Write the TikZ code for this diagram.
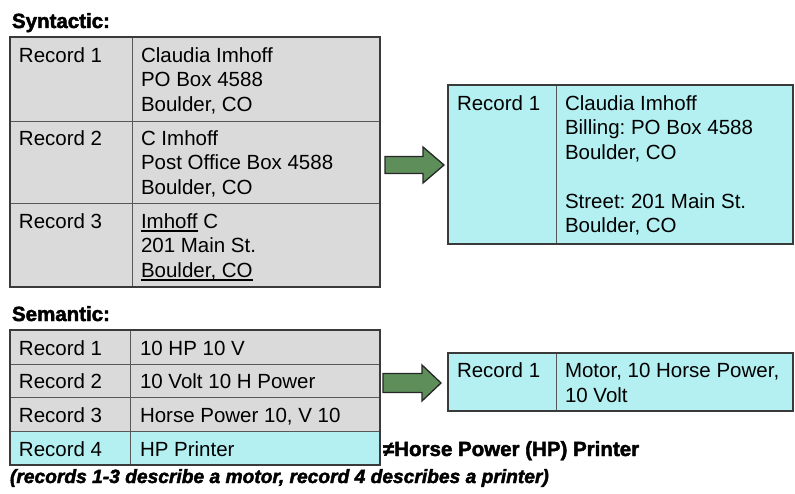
\documentclass[tikz,border=0pt]{standalone}
\usepackage{fontspec}
\setmainfont{Liberation Sans}
\newfontfamily\heavy{Liberation Sans Bold}[FakeBold=2.2]
\newfontfamily\heavyit{Liberation Sans Bold Italic}[FakeBold=2.2]
\usepackage{array}
\frenchspacing
\definecolor{cellgrey}{HTML}{DADADA}
\definecolor{cellcyan}{HTML}{B4F0F1}
\definecolor{arrowgreen}{HTML}{5E8F5B}
\definecolor{edge}{HTML}{3A3A3A}
% underline with a fixed, fairly heavy rule
\newcommand\ulword[1]{\setbox0\hbox{#1}\rlap{\rule[-3.2pt]{\wd0}{1.5pt}}\box0}
% stacked lines with a fixed line pitch, baseline on the first line
\newcommand\stack[1]{\begin{tabular}[t]{@{}l@{}}#1\end{tabular}}
\begin{document}
\begin{tikzpicture}[x=1pt,y=-1pt,
  every node/.style={inner sep=0pt,outer sep=0pt},
  greycell/.style={draw=edge!85,line width=0.9pt,fill=cellgrey,anchor=north west},
  cyancell/.style={draw=edge!85,line width=0.9pt,fill=cellcyan,anchor=north west},
  txt/.style={anchor=base west,font=\fontsize{20.5}{24.5}\selectfont},
  title/.style={anchor=base west,font=\fontsize{20.5}{24.5}\heavy},
  frame/.style={draw=edge,line width=1.6pt},
  blockarrow/.style={draw=black!85,line width=1.3pt,fill=arrowgreen,line join=miter}
]
\useasboundingbox (0,0) rectangle (795,494);

% ---------------- Syntactic ----------------
\node[title] (syn) at (12,28) {Syntactic:};

\node[greycell,minimum width=122pt,minimum height=84.5pt] (a1) at (10,37) {};
\node[greycell,minimum width=248pt,minimum height=84.5pt] (b1) at (132,37) {};
\node[greycell,minimum width=122pt,minimum height=82pt] (a2) at (10,121.5) {};
\node[greycell,minimum width=248pt,minimum height=82pt] (b2) at (132,121.5) {};
\node[greycell,minimum width=122pt,minimum height=83.5pt] (a3) at (10,203.5) {};
\node[greycell,minimum width=248pt,minimum height=83.5pt] (b3) at (132,203.5) {};
\draw[frame] (a1.north west) rectangle (b3.south east);

\node[txt] (r1) at (19,62.5) {Record 1};
\node[txt] (t1) at (141,62.5) {\stack{Claudia Imhoff\\PO Box 4588\\Boulder, CO}};
\node[txt] (r2) at (19,145.5) {Record 2};
\node[txt] (t2) at (141,145.5) {\stack{C Imhoff\\Post Office Box 4588\\Boulder, CO}};
\node[txt] (r3) at (19,228.5) {Record 3};
\node[txt] (t3) at (141,228.5) {\stack{\ulword{Imhoff}\ C\\201 Main St.\\\ulword{Boulder, CO}}};

% merged record
\node[cyancell,minimum width=108pt,minimum height=159pt] (ma) at (448,85) {};
\node[cyancell,minimum width=237pt,minimum height=159pt] (mb) at (556,85) {};
\draw[frame] (ma.north west) rectangle (mb.south east);
\node[txt] (mr) at (457,110.5) {Record 1};
\node[txt] (mt) at (565,110.5) {\stack{Claudia Imhoff\\Billing: PO Box 4588\\Boulder, CO\\[24.5pt]Street: 201 Main St.\\Boulder, CO}};

\coordinate (p1) at (385,165);
\draw[blockarrow] (p1) ++(0,-8.5) -- ++(38,0) -- ++(0,-9.5) -- ++(21,18) -- ++(-21,18)
  -- ++(0,-9.5) -- ++(-38,0) -- cycle;

% ---------------- Semantic ----------------
\node[title] (sem) at (12,321) {Semantic:};

\node[greycell,minimum width=120pt,minimum height=34pt] (c1) at (10,330) {};
\node[greycell,minimum width=250pt,minimum height=34pt] (d1) at (130,330) {};
\node[greycell,minimum width=120pt,minimum height=33.5pt] (c2) at (10,364) {};
\node[greycell,minimum width=250pt,minimum height=33.5pt] (d2) at (130,364) {};
\node[greycell,minimum width=120pt,minimum height=34pt] (c3) at (10,397.5) {};
\node[greycell,minimum width=250pt,minimum height=34pt] (d3) at (130,397.5) {};
\node[cyancell,minimum width=120pt,minimum height=33.5pt] (c4) at (10,431.5) {};
\node[cyancell,minimum width=250pt,minimum height=33.5pt] (d4) at (130,431.5) {};
\draw[frame] (c1.north west) rectangle (d4.south east);

\node[txt] (s1) at (19,355) {Record 1};
\node[txt] (u1) at (140,355) {10 HP 10 V};
\node[txt] (s2) at (19,388.5) {Record 2};
\node[txt] (u2) at (140,388.5) {10 Volt 10 H Power};
\node[txt] (s3) at (19,422) {Record 3};
\node[txt] (u3) at (140,422) {Horse Power 10, V 10};
\node[txt] (s4) at (19,456) {Record 4};
\node[txt] (u4) at (140,456) {HP Printer};

\node[cyancell,minimum width=108pt,minimum height=58pt] (na) at (448,353) {};
\node[cyancell,minimum width=237pt,minimum height=58pt] (nb) at (556,353) {};
\draw[frame] (na.north west) rectangle (nb.south east);
\node[txt] (nr) at (457,377.5) {Record 1};
\node[txt] (nt) at (565,377.5) {\stack{Motor, 10 Horse Power,\\10 Volt}};

\coordinate (p2) at (383,383);
\draw[blockarrow] (p2) ++(0,-9.5) -- ++(39,0) -- ++(0,-8.5) -- ++(19,18) -- ++(-19,18)
  -- ++(0,-8.5) -- ++(-39,0) -- cycle;

\node[title] (ne) at (383,456) {≠Horse Power (HP) Printer};
\node[anchor=base west,font=\fontsize{19.2}{24}\heavyit] (note) at (10,483)
  {(records 1-3 describe a motor, record 4 describes a printer)};
\end{tikzpicture}
\end{document}
